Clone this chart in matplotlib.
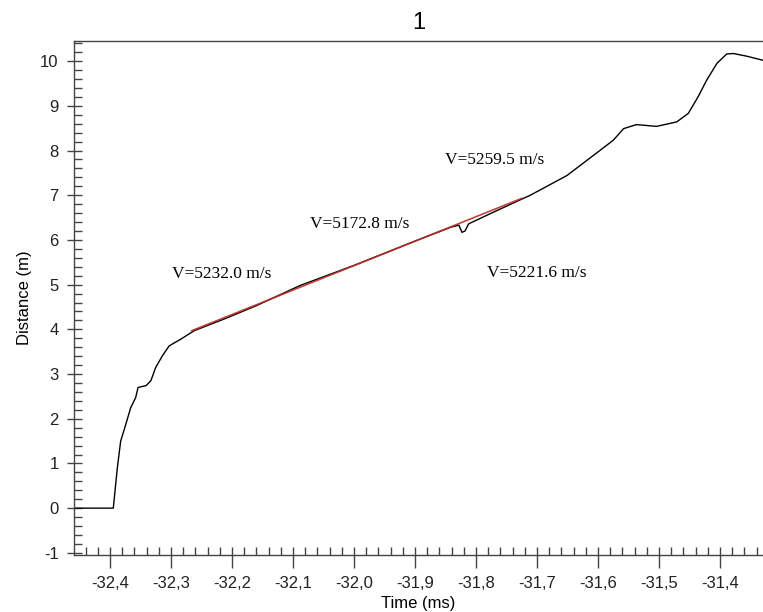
import matplotlib
matplotlib.use("Agg")
import matplotlib.pyplot as plt
from matplotlib.ticker import MultipleLocator, FuncFormatter

# displacement trace
time_ms = [-32.459, -32.3946, -32.388, -32.3825, -32.374, -32.366, -32.358, -32.354,
           -32.341, -32.333, -32.325, -32.314, -32.303, -32.284, -32.262, -32.213,
           -32.16, -32.0885, -32.00, -31.897, -31.84, -31.828, -31.823, -31.818,
           -31.812, -31.77, -31.711, -31.651, -31.597, -31.575, -31.558, -31.537,
           -31.504, -31.471, -31.452, -31.436, -31.422, -31.405, -31.389, -31.378,
           -31.356, -31.330]
dist_m = [0, 0, 0.90, 1.50, 1.88, 2.25, 2.47, 2.70,
          2.74, 2.85, 3.15, 3.41, 3.63, 3.78, 3.97, 4.23,
          4.53, 4.98, 5.43, 5.99, 6.29, 6.33, 6.17, 6.20,
          6.36, 6.63, 7.00, 7.44, 8.00, 8.23, 8.49, 8.58,
          8.54, 8.64, 8.83, 9.20, 9.57, 9.95, 10.16, 10.17,
          10.11, 10.02]

# linear fit (red)
fit_t = [-32.266, -31.725]
fit_d = [3.97, 6.93]

# velocity labels
vel_text = ["V=5232.0 m/s", "V=5172.8 m/s", "V=5259.5 m/s", "V=5221.6 m/s"]
vel_t = [-32.299, -32.072, -31.851, -31.782]
vel_d = [5.24, 6.36, 7.78, 5.25]

plt.rcParams['font.family'] = ['Liberation Sans', 'DejaVu Sans']

fig = plt.figure(figsize=(7.63, 6.12), dpi=100)
ax = fig.add_axes([0.097, 0.093, 0.903, 0.84])

ax.plot(time_ms, dist_m, color='black', lw=1.0)
ax.plot(fit_t, fit_d, color='#b8302a', lw=1.2, alpha=0.9)

for s, t, d in zip(vel_text, vel_t, vel_d):
    ax.text(t, d, s, family=['Liberation Serif'], fontsize=12.5, va='center', ha='left')

ax.set_xlim(-32.459, -31.3295)
ax.set_ylim(-1.05, 10.45)

ax.xaxis.set_major_locator(MultipleLocator(0.1))
ax.xaxis.set_minor_locator(MultipleLocator(0.02))
ax.yaxis.set_major_locator(MultipleLocator(1))
ax.yaxis.set_minor_locator(MultipleLocator(0.2))
ax.xaxis.remove_overlapping_locs = False
ax.yaxis.remove_overlapping_locs = False

ax.xaxis.set_major_formatter(FuncFormatter(lambda v, p: f"{v:.1f}".replace('.', ',')))
ax.yaxis.set_major_formatter(FuncFormatter(lambda v, p: f"{v:.0f}"))

axcol = '#444444'
for side in ['left', 'bottom', 'top']:
    ax.spines[side].set_color(axcol)
    ax.spines[side].set_linewidth(1.0)
ax.spines['right'].set_visible(False)

ax.tick_params(axis='x', which='major', direction='out', length=9.4, width=1, color=axcol,
               labelsize=12, pad=5.5, labelcolor='#222222')
ax.tick_params(axis='x', which='minor', direction='in', length=5.8, width=1, color=axcol)
ax.tick_params(axis='y', which='major', direction='out', length=5, width=1, color=axcol,
               labelsize=12, pad=6, labelcolor='#222222')
ax.tick_params(axis='y', which='minor', direction='in', length=5.8, width=1, color=axcol)

ax.set_xlabel('Time (ms)', fontsize=12, labelpad=4)
ax.set_ylabel('Distance (m)', fontsize=12, labelpad=6)
ax.set_title('1', fontsize=17, pad=9)

fig.savefig('out.png', dpi=100)
